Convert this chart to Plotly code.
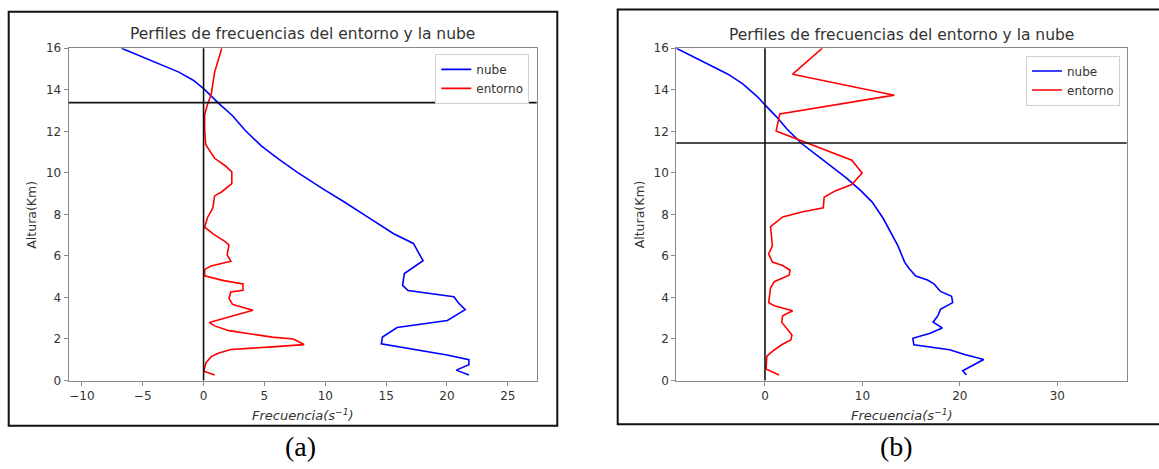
import plotly.graph_objects as go

# ---- Panel (a): frequency profiles, cloud vs environment ----
alt_nube_a = [16.0, 14.85, 14.46, 14.04, 13.37, 12.75, 12.05, 11.3, 10.65, 10.03, 9.25, 8.62,
              7.84, 7.07, 6.6, 5.77, 5.15, 4.58, 4.33, 4.03, 3.72, 3.41, 2.89, 2.82, 2.55,
              2.09, 1.77, 1.23, 1.0, 0.76, 0.5, 0.26]
frec_nube_a = [-6.74, -2.03, -0.85, 0.03, 1.2, 2.38, 3.41, 4.74, 6.2, 7.68, 9.74, 11.5,
               13.56, 15.62, 17.24, 18.03, 16.5, 16.35, 16.8, 20.56, 20.97, 21.5, 20.03, 19.1, 15.9,
               14.7, 14.6, 20.0, 21.8, 21.8, 20.76, 21.8]

alt_entorno_a = [16.0, 14.85, 13.76, 13.29, 12.8, 12.05, 11.35, 10.7, 10.33, 10.05, 9.48, 9.09,
                 8.89, 8.31, 7.84, 7.38, 7.07, 6.68, 6.52, 6.05, 5.74, 5.51, 5.35, 5.04, 4.81,
                 4.65, 4.34, 4.26, 3.95, 3.67, 3.61, 3.38, 2.79, 2.63, 2.4, 2.24, 2.09, 2.0,
                 1.73, 1.62, 1.49, 1.31, 1.15, 0.84, 0.45, 0.26]
frec_entorno_a = [1.5, 0.91, 0.62, 0.32, 0.09, 0.09, 0.18, 0.91, 1.8, 2.32, 2.32, 1.5,
                  0.91, 0.76, 0.32, 0.09, 0.76, 1.8, 2.09, 1.94, 2.24, 0.62, 0.09, 0.09, 1.65,
                  3.24, 3.24, 2.24, 2.09, 2.38, 2.68, 4.06, 0.47, 0.91, 2.09, 4.15, 5.62, 7.38,
                  8.26, 5.62, 2.24, 1.2, 0.62, 0.18, 0.03, 0.91]

nivel_a = 13.38  # horizontal reference level (km)

# ---- Panel (b) ----
alt_nube_b = [16.0, 15.38, 14.75, 14.28, 13.66, 13.27, 12.72, 12.1, 11.4, 10.85, 10.3, 9.76,
              9.13, 8.59, 7.8, 7.18, 6.48, 5.7, 5.39, 5.03, 4.84, 4.64, 4.29, 4.06, 3.75,
              3.43, 3.12, 2.81, 2.53, 2.26, 2.03, 1.72, 1.48, 1.25, 1.01, 0.47, 0.27]
frec_nube_b = [-9.1, -6.45, -3.79, -2.28, -0.76, 0.0, 1.14, 2.28, 3.79, 5.31, 6.83, 8.34,
               9.86, 11.0, 12.14, 12.89, 13.65, 14.33, 14.79, 15.47, 16.68, 17.37, 18.01, 19.15, 19.26,
               18.01, 17.75, 17.25, 18.2, 16.88, 15.17, 15.28, 18.96, 20.48, 22.45, 20.29, 20.67]

alt_entorno_b = [16.0, 14.75, 13.74, 12.83, 12.02, 11.74, 11.27, 10.61, 9.99, 9.44, 9.13, 8.82,
                 8.32, 8.11, 7.88, 7.41, 6.48, 6.09, 5.7, 5.54, 5.31, 5.07, 4.76, 4.45, 3.75,
                 3.6, 3.36, 3.12, 2.81, 2.5, 2.19, 1.95, 1.72, 1.4, 1.17, 0.55, 0.27]
frec_entorno_b = [5.88, 2.84, 13.27, 1.52, 1.14, 2.65, 5.31, 8.91, 9.97, 8.91, 7.2, 6.07,
                  5.99, 3.79, 1.82, 0.57, 0.76, 0.38, 0.76, 1.82, 2.58, 2.47, 0.95, 0.57, 0.38,
                  0.95, 2.84, 1.82, 1.71, 2.2, 2.77, 2.65, 1.71, 0.76, 0.19, 0.11, 1.44]

nivel_b = 11.44

xticks_a = [-10, -5, 0, 5, 10, 15, 20, 25]
xticks_b = [0, 10, 20, 30]
yticks = [0, 2, 4, 6, 8, 10, 12, 14, 16]

titulo = "Perfiles de frecuencias del entorno y la nube"
etiqueta_x = "<i>Frecuencia(s<sup>−1</sup>)</i>"
etiqueta_y = "Altura(Km)"

W, H = 1159, 469
FONT = "DejaVu Sans"
AZUL, ROJO = "#0000ff", "#ff0000"
SPINE = "#8a8a8a"
TXT = "#333333"


def px(x):
    return x / W


def py(y):
    return 1 - y / H


fig = go.Figure()

fig.add_trace(go.Scatter(x=frec_nube_a, y=alt_nube_a, mode="lines", name="nube",
                         line=dict(color=AZUL, width=1.6), xaxis="x", yaxis="y", legend="legend"))
fig.add_trace(go.Scatter(x=frec_entorno_a, y=alt_entorno_a, mode="lines", name="entorno",
                         line=dict(color=ROJO, width=1.6), xaxis="x", yaxis="y", legend="legend"))
fig.add_trace(go.Scatter(x=frec_nube_b, y=alt_nube_b, mode="lines", name="nube",
                         line=dict(color=AZUL, width=1.6), xaxis="x2", yaxis="y2", legend="legend2"))
fig.add_trace(go.Scatter(x=frec_entorno_b, y=alt_entorno_b, mode="lines", name="entorno",
                         line=dict(color=ROJO, width=1.6), xaxis="x2", yaxis="y2", legend="legend2"))

axis_common = dict(showline=True, linecolor=SPINE, linewidth=1.2, mirror=True, showgrid=False,
                   zeroline=False, ticks="outside", ticklen=4, tickcolor=SPINE, tickwidth=1,
                   tickfont=dict(family=FONT, size=12, color=TXT))

ydom = [py(385), py(42.5)]
fig.update_layout(
    width=W, height=H,
    margin=dict(l=0, r=0, t=0, b=0),
    paper_bgcolor="white", plot_bgcolor="white",
    showlegend=True,
    xaxis=dict(domain=[px(68.7), px(536.7)], range=[-11.08, 27.37], tickvals=xticks_a,
               anchor="y", **axis_common),
    yaxis=dict(domain=ydom, range=[0, 16], tickvals=yticks, anchor="x", **axis_common),
    xaxis2=dict(domain=[px(676.3), px(1126.7)], range=[-9.1, 37.12], tickvals=xticks_b,
                anchor="y2", **axis_common),
    yaxis2=dict(domain=ydom, range=[0, 16], tickvals=yticks, anchor="x2", **axis_common),
    legend=dict(x=px(529.3), y=py(48.3), xanchor="right", yanchor="top",
                bgcolor="white", bordercolor="#d0d0d0", borderwidth=1, itemwidth=30,
                font=dict(family=FONT, size=12, color=TXT), tracegroupgap=0),
    legend2=dict(x=px(1120), y=py(50), xanchor="right", yanchor="top",
                 bgcolor="white", bordercolor="#d0d0d0", borderwidth=1, itemwidth=30,
                 font=dict(family=FONT, size=12, color=TXT), tracegroupgap=0),
)

# reference lines: zero frequency and the level line in each panel
for xa, ya, nivel in (("x", "y", nivel_a), ("x2", "y2", nivel_b)):
    fig.add_shape(type="line", xref=xa, yref=f"{ya} domain", x0=0, x1=0, y0=0, y1=1,
                  line=dict(color="#111111", width=1.6))
    fig.add_shape(type="line", xref=f"{xa} domain", yref=ya, x0=0, x1=1, y0=nivel, y1=nivel,
                  line=dict(color="#111111", width=1.6))

# outer frames around each panel
fig.add_shape(type="rect", xref="paper", yref="paper", x0=px(8.7), x1=px(557.3),
              y0=py(431.7), y1=py(5), line=dict(color="#111111", width=2))
fig.add_shape(type="rect", xref="paper", yref="paper", x0=px(617.7), x1=px(1162),
              y0=py(430), y1=py(2.7), line=dict(color="#111111", width=2))

ann = []
for cx, ty, ylab_x in ((302.7, 28.3, 31.4), (901.5, 29.3, 639)):
    ann.append(dict(text=titulo, x=px(cx), y=py(ty), xref="paper", yref="paper",
                    showarrow=False, xanchor="center", yanchor="middle",
                    font=dict(family=FONT, size=15.5, color=TXT)))
    ann.append(dict(text=etiqueta_x, x=px(cx), y=py(420.7), xref="paper", yref="paper",
                    showarrow=False, xanchor="center", yanchor="middle",
                    font=dict(family=FONT, size=13, color=TXT)))
    ann.append(dict(text=etiqueta_y, x=px(ylab_x), y=py(213.7), xref="paper", yref="paper",
                    showarrow=False, xanchor="center", yanchor="middle", textangle=-90,
                    font=dict(family=FONT, size=12.5, color=TXT)))

for txt, cx in (("(a)", 300), ("(b)", 896)):
    ann.append(dict(text=txt, x=px(cx), y=py(453), xref="paper", yref="paper",
                    showarrow=False, xanchor="center", yanchor="middle",
                    font=dict(family="Liberation Serif", size=28, color="black")))

fig.update_layout(annotations=ann)

fig.write_html("out.html")
